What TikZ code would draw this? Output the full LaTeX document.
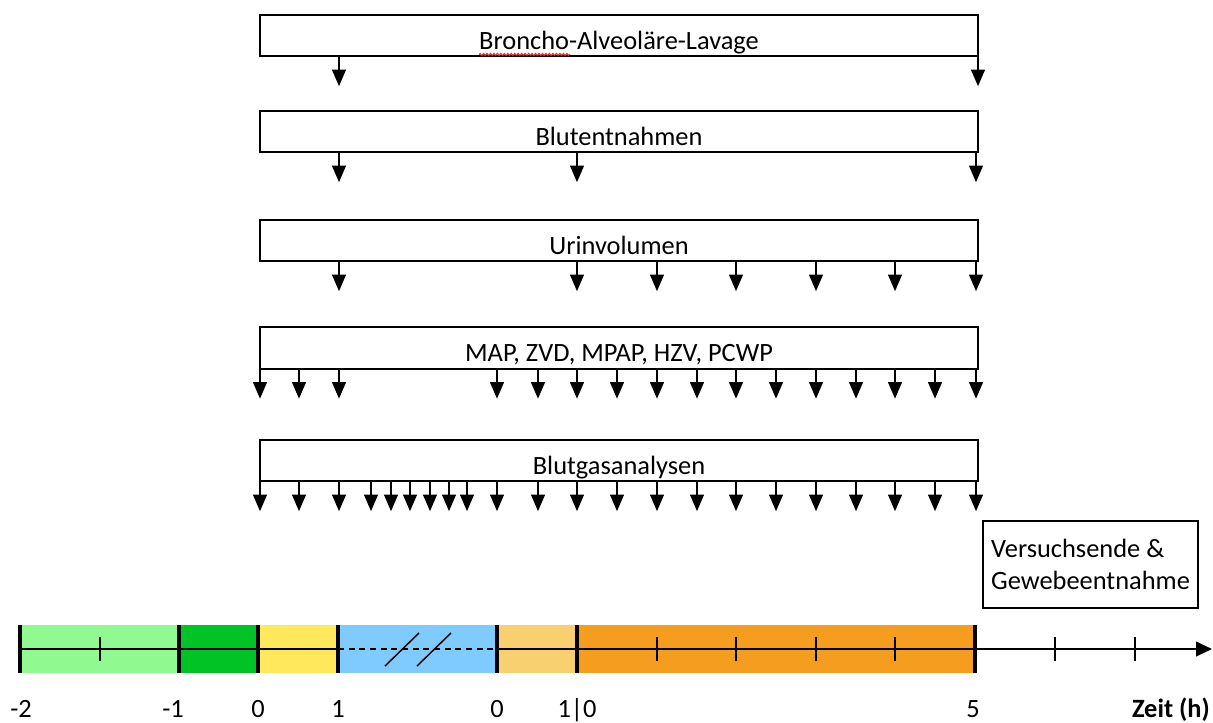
\documentclass[tikz,border=0pt]{standalone}
\usepackage{fontspec}
\setmainfont{Carlito}
\usetikzlibrary{arrows.meta,decorations.pathmorphing}

\definecolor{prelight}{RGB}{144,250,144}
\definecolor{pregreen}{RGB}{0,196,37}
\definecolor{phaseyellow}{RGB}{255,232,92}
\definecolor{phaseblue}{RGB}{127,202,255}
\definecolor{phasesand}{RGB}{248,208,112}
\definecolor{phaseorange}{RGB}{244,157,30}
\definecolor{spellred}{RGB}{220,40,40}

\begin{document}
\begin{tikzpicture}[x=0.75pt,y=-0.75pt,
  lbl/.style={font=\fontsize{19.8}{23.5}\selectfont, inner sep=0pt},
  measbox/.style={draw, line width=1.5pt, rectangle, minimum width=538.5pt,
    minimum height=31pt, inner sep=0pt},
  sample/.style={line width=1.1pt, -{Triangle[width=10.5pt,length=12.5pt]}},
  axisline/.style={line width=1.5pt},
  phaseline/.style={line width=2.3pt},
  minortick/.style={line width=1.1pt},
]
\useasboundingbox (0,0) rectangle (1213,722);

% ---- measurement schedules ----
% Broncho-alveolar lavage
\node[measbox] (bal) at (619,35.5) {};
\node[lbl, anchor=base] (baltxt) at (619,49) {Broncho-Alveoläre-Lavage};
\draw[spellred, line width=0.8pt, decorate,
  decoration={snake, amplitude=0.8pt, segment length=2.6pt}] (479,54.5) -- (570,54.5);
\foreach \x in {339,978}
  \draw[sample] (\x,0 |- bal.south) -- ++(0,29);

% blood samples
\node[measbox] (blood) at (619,131.5) {};
\node[lbl, anchor=base] (bloodtxt) at (619,145) {Blutentnahmen};
\foreach \x in {339,577,976}
  \draw[sample] (\x,0 |- blood.south) -- ++(0,29);

% urine volume
\node[measbox] (urine) at (619,240.5) {};
\node[lbl, anchor=base] (urinetxt) at (619,254) {Urinvolumen};
\foreach \x in {339,577,657,736,816,895,976}
  \draw[sample] (\x,0 |- urine.south) -- ++(0,29);

% haemodynamics
\node[measbox] (haemo) at (619,348) {};
\node[lbl, anchor=base] (haemotxt) at (619,361) {MAP, ZVD, MPAP, HZV, PCWP};
\foreach \x in {260,299,339,497,538,577,617,657,697,736,776,816,856,895,935,976}
  \draw[sample] (\x,0 |- haemo.south) -- ++(0,29);

% blood gas analyses
\node[measbox] (bga) at (619,460.5) {};
\node[lbl, anchor=base] (bgatxt) at (619,474) {Blutgasanalysen};
\foreach \x in {260,299,339,371,391,410,430,449,467,497,538,577,617,657,697,736,776,816,856,895,935,976}
  \draw[sample] (\x,0 |- bga.south) -- ++(0,29);

% end of experiment
\node[lbl, draw, line width=1.1pt, minimum width=161.25pt, minimum height=65.25pt,
  align=left] (endbox) at (1090.5,564.5) {Versuchsende \&\\Gewebeentnahme};

% ---- time axis ----
\fill[prelight]    (20,625)  rectangle (179,673);
\fill[pregreen]    (179,625) rectangle (258,673);
\fill[phaseyellow] (258,625) rectangle (338,673);
\fill[phaseblue]   (338,625) rectangle (497,673);
\fill[phasesand]   (497,625) rectangle (577,673);
\fill[phaseorange] (577,625) rectangle (975,673);

\coordinate (ax0) at (20,649);
\coordinate (axa) at (338,649);
\coordinate (axb) at (497,649);
\coordinate (ax1) at (1212,649);
\draw[axisline] (ax0) -- (axa);
\draw[axisline, dash pattern=on 4.5pt off 3.5pt] (axa) -- (axb);
\draw[axisline, -{Triangle[width=11pt,length=12pt]}] (axb) -- (ax1);

% time break marks
\draw[line width=1.1pt] (385,666) -- (419,633);
\draw[line width=1.1pt] (417,666) -- (451,633);

% phase boundaries
\foreach \x in {20,179,258,338,497,577,975}
  \draw[phaseline] (\x,625) -- (\x,673);
% hour ticks
\foreach \x in {100,657,736,816,895,1055,1135}
  \draw[minortick] (\x,637) -- (\x,661);

% ---- axis labels ----
\foreach \x/\t/\n in {21/-2/la, 173/-1/lb, 258/0/lc, 338/1/ld, 497/0/le, 577/{1|0}/lf, 973/5/lg}
  \node[lbl, anchor=base] (\n) at (\x,717) {\t};
\node[lbl, anchor=base east, font=\fontsize{19.8}{23.5}\selectfont\bfseries] (zeit) at (1210,717) {Zeit (h)};
\end{tikzpicture}
\end{document}
